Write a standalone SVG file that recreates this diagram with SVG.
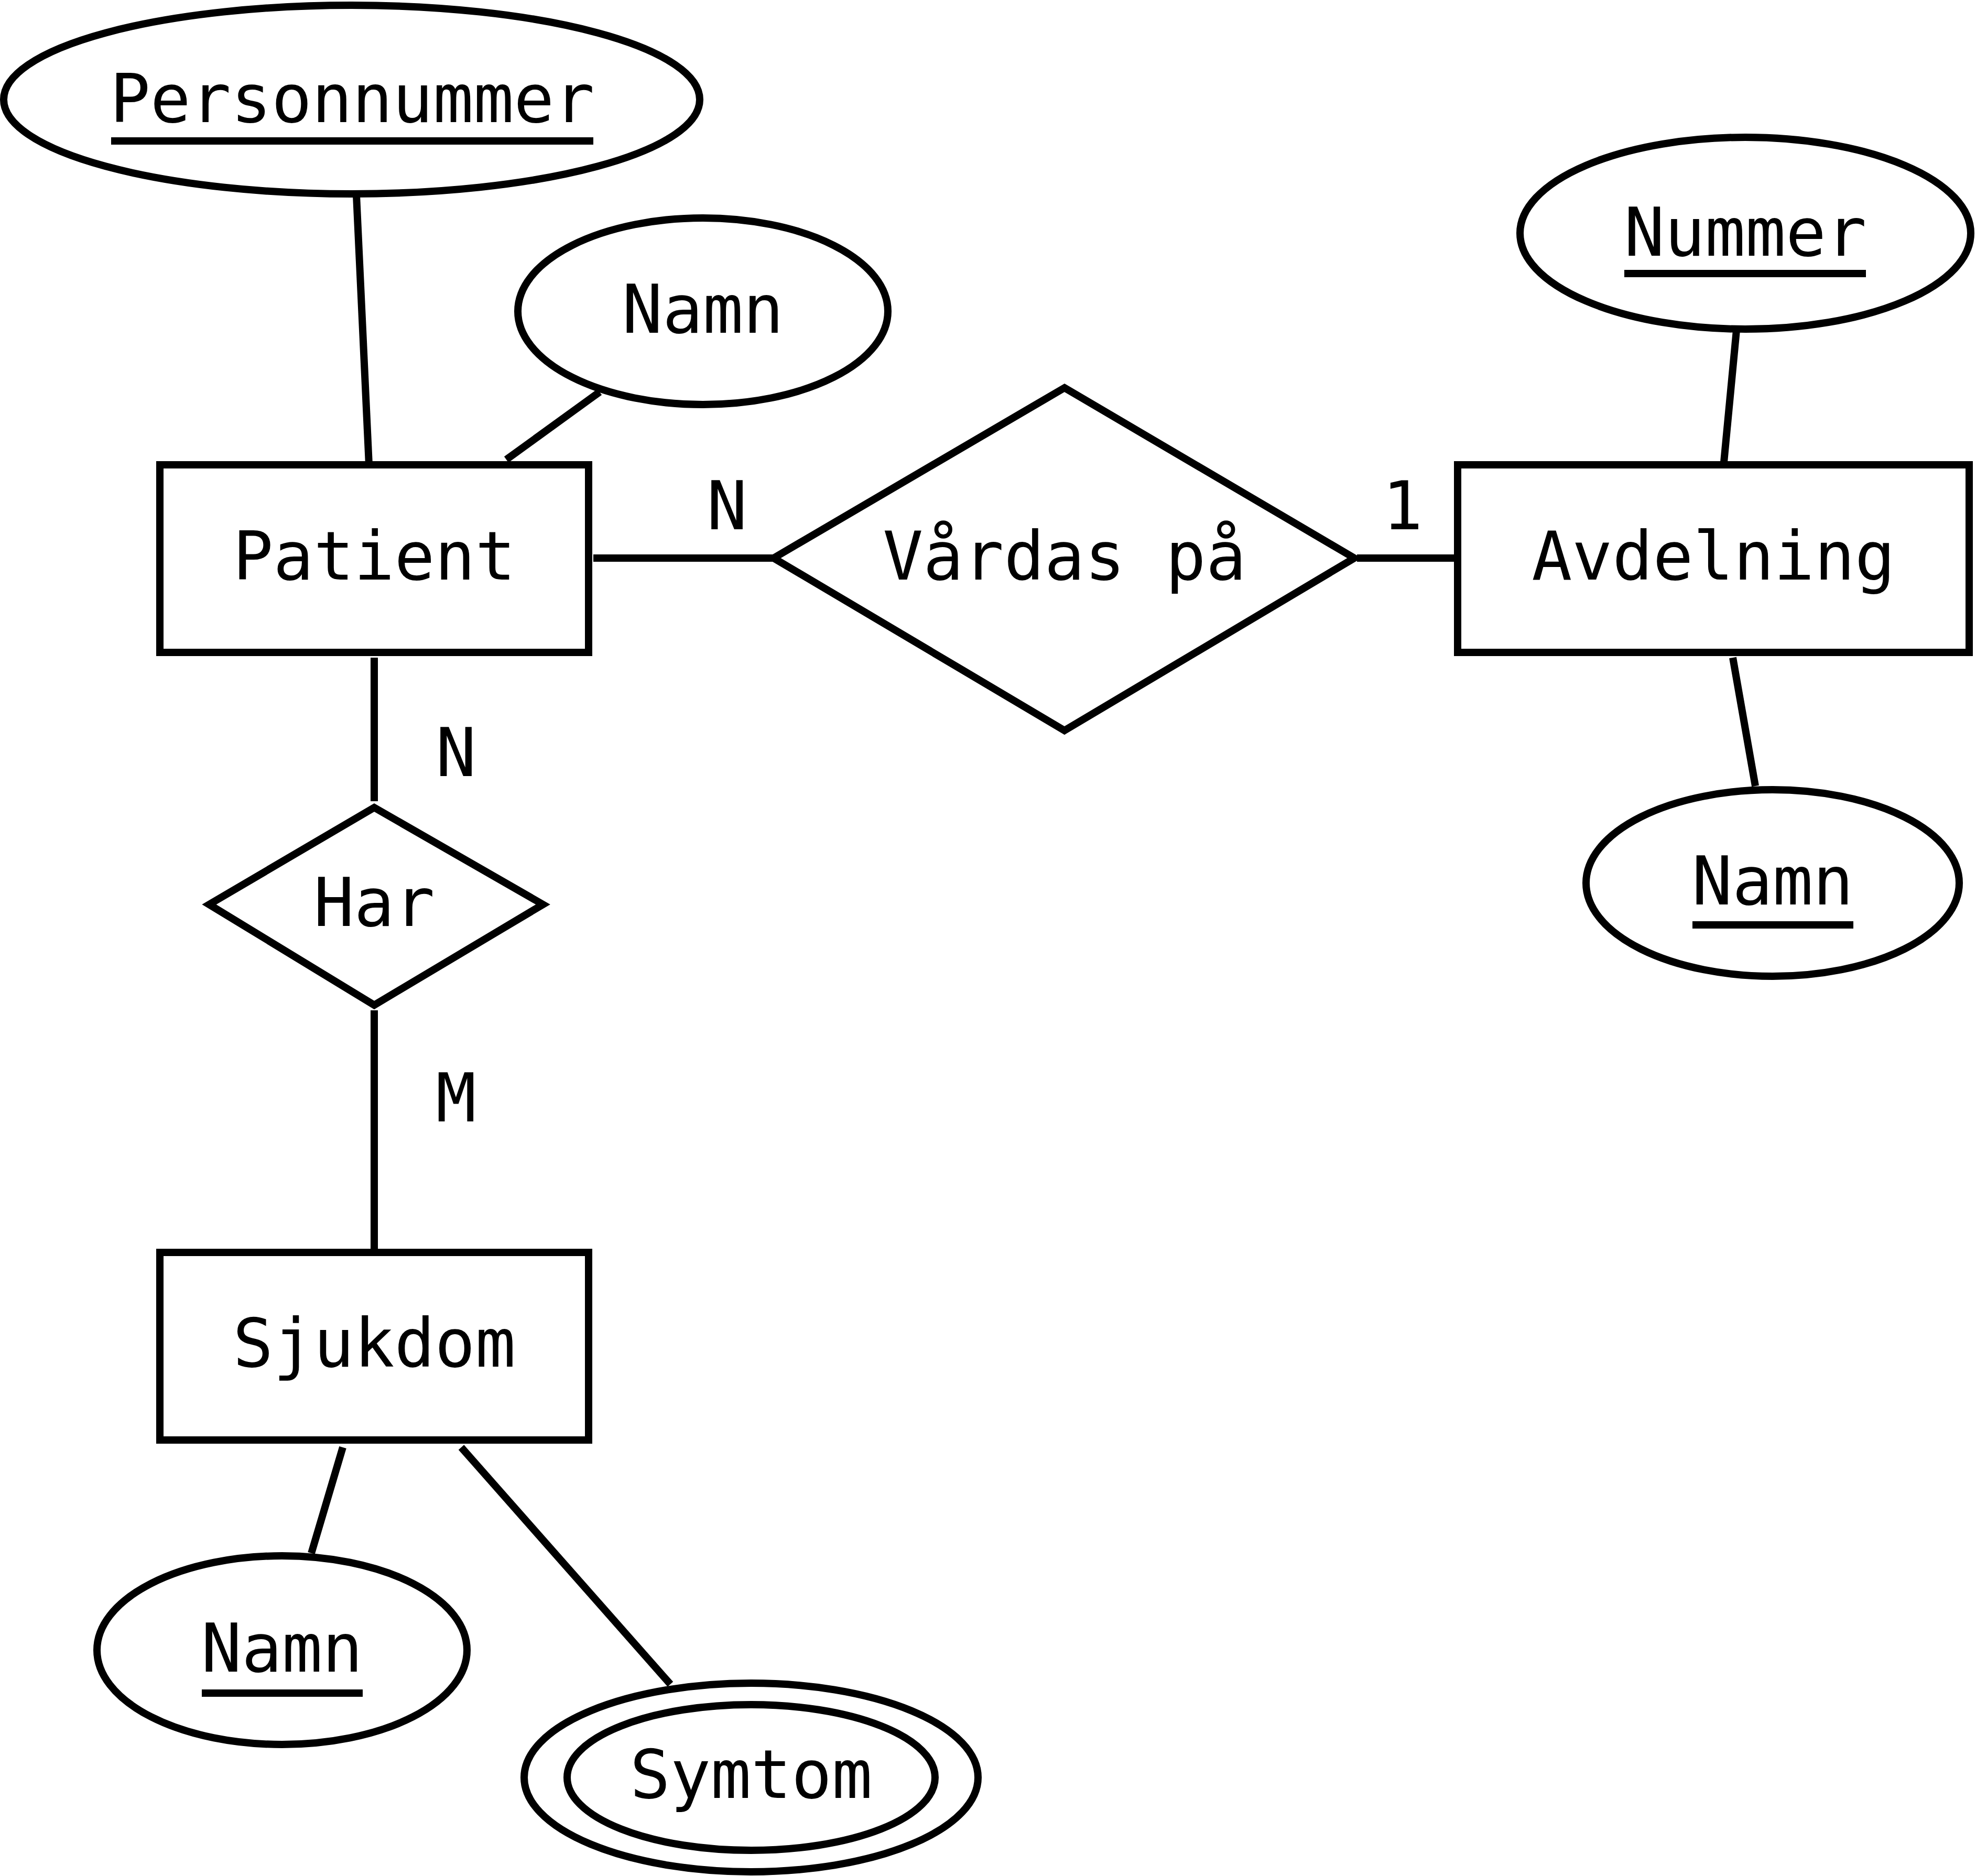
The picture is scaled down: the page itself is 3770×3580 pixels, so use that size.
<svg xmlns="http://www.w3.org/2000/svg" width="3770" height="3580" viewBox="0 0 3770 3580">
<style>
.s{fill:none;stroke:#000;stroke-width:14}
.w{fill:#fff;stroke:#000;stroke-width:14}
text{font-family:"DejaVu Sans Mono","Liberation Mono",monospace;font-size:128px;text-anchor:middle;fill:#000}
</style>
<rect width="3770" height="3580" fill="#fff"/>
<g id="connectors" class="s">
<line x1="680" y1="373" x2="704" y2="887"/>
<line x1="1144" y1="748" x2="966" y2="877"/>
<line x1="1132" y1="1065" x2="1476" y2="1065"/>
<line x1="2589" y1="1065" x2="2781" y2="1065"/>
<line x1="3313" y1="630" x2="3289" y2="882"/>
<line x1="3306" y1="1255" x2="3349" y2="1500"/>
<line x1="714" y1="1255" x2="714" y2="1529"/>
<line x1="714" y1="1928" x2="714" y2="2390"/>
<line x1="654" y1="2762" x2="594" y2="2964"/>
<line x1="880" y1="2762" x2="1279" y2="3214"/>
</g>
<g id="labels">
<text x="1387" y="1010">N</text>
<text x="2676" y="1010">1</text>
<text x="870" y="1481">N</text>
<text x="870" y="2140">M</text>
</g>
<g id="personnummer"><ellipse class="w" cx="671" cy="190" rx="664" ry="180"/><text x="672" y="233">Personnummer</text><line class="s" x1="212" y1="269" x2="1132" y2="269"/></g>
<g id="namn-patient"><ellipse class="w" cx="1341" cy="594" rx="353" ry="178"/><text x="1341" y="635">Namn</text></g>
<g id="patient"><rect class="w" x="305" y="887" width="818" height="358"/><text x="714" y="1106">Patient</text></g>
<g id="vardas"><polygon class="w" points="1476,1065 2031,740 2584,1065 2031,1394"/><text x="2031" y="1106">Vårdas på</text></g>
<g id="avdelning"><rect class="w" x="2781" y="887" width="976" height="358"/><text x="3269" y="1106">Avdelning</text></g>
<g id="nummer"><ellipse class="w" cx="3330" cy="445" rx="430" ry="183"/><text x="3330" y="488">Nummer</text><line class="s" x1="3099" y1="522" x2="3560" y2="522"/></g>
<g id="namn-avd"><ellipse class="w" cx="3382" cy="1685" rx="356" ry="178"/><text x="3382" y="1726">Namn</text><line class="s" x1="3229" y1="1765" x2="3536" y2="1765"/></g>
<g id="har"><polygon class="w" points="399,1726 714,1541 1036,1726 714,1918"/><text x="714" y="1767">Har</text></g>
<g id="sjukdom"><rect class="w" x="305" y="2390" width="818" height="358"/><text x="714" y="2608">Sjukdom</text></g>
<g id="namn-sjuk"><ellipse class="w" cx="538" cy="3149" rx="353" ry="180"/><text x="538" y="3190">Namn</text><line class="s" x1="385" y1="3231" x2="692" y2="3231"/></g>
<g id="symtom"><ellipse class="w" cx="1433" cy="3392" rx="433" ry="180"/><ellipse class="w" cx="1433" cy="3392" rx="351" ry="139"/><text x="1433" y="3431">Symtom</text></g>
</svg>
